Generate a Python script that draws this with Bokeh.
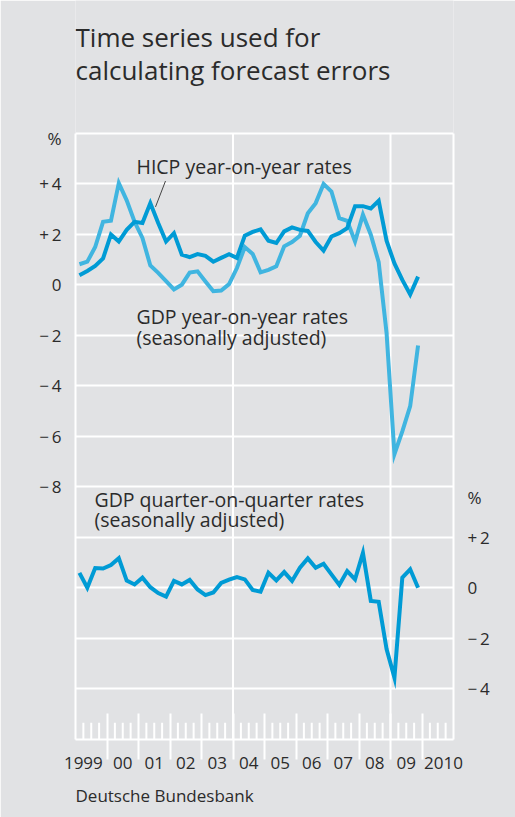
from bokeh.plotting import figure
from bokeh.models import FixedTicker, LinearAxis, Label, Title
from bokeh.embed import file_html
from bokeh.resources import INLINE

# ---------------- data ----------------
QUARTERS = [(y, q) for y in range(1999, 2010) for q in (1, 2, 3, 4)]

HICP_YOY = [0.38, 0.55, 0.75, 1.05, 2.0, 1.72, 2.18, 2.5, 2.45, 3.24, 2.45, 1.72,
            2.05, 1.2, 1.1, 1.22, 1.15, 0.92, 1.07, 1.22, 1.07, 1.95, 2.1, 2.2,
            1.75, 1.66, 2.12, 2.28, 2.18, 2.14, 1.7, 1.36, 1.92, 2.05, 2.25, 3.12,
            3.12, 3.03, 3.33, 1.75, 0.85, 0.2, -0.38, 0.33]

GDP_YOY = [0.82, 0.92, 1.5, 2.5, 2.54, 4.03, 3.35, 2.5, 1.86, 0.77, 0.48, 0.15,
           -0.18, 0.01, 0.49, 0.54, 0.14, -0.25, -0.22, 0.03, 0.67, 1.5, 1.23, 0.5,
           0.6, 0.74, 1.53, 1.7, 1.95, 2.84, 3.24, 4.0, 3.7, 2.64, 2.54, 1.72,
           2.78, 1.99, 0.9, -1.9, -6.7, -5.8, -4.8, -2.4]

GDP_QOQ = [0.6, 0.01, 0.79, 0.77, 0.91, 1.18, 0.29, 0.14, 0.41, 0.03, -0.2, -0.34,
           0.28, 0.14, 0.32, -0.06, -0.28, -0.18, 0.2, 0.33, 0.43, 0.34, -0.08, -0.15,
           0.6, 0.3, 0.63, 0.28, 0.8, 1.17, 0.8, 0.96, 0.54, 0.12, 0.67, 0.34,
           1.39, -0.51, -0.55, -2.42, -3.55, 0.41, 0.74, 0.01]

YEARS = list(range(1999, 2011))
YEAR_LABELS = ["1999", "00", "01", "02", "03", "04", "05", "06", "07", "08", "09", "2010"]

UPPER_TICKS = [4, 2, 0, -2, -4, -6, -8]
UPPER_TICK_LABELS = ["+\u20094", "+\u20092", "0", "\u2212\u20092", "\u2212\u20094", "\u2212\u20096", "\u2212\u20098"]
LOWER_TICKS = [2, 0, -2, -4]
LOWER_TICK_LABELS = ["+\u20092", "0", "\u2212\u20092", "\u2212\u20094"]

TITLE_LINES = ["Time series used for", "calculating forecast errors"]
SOURCE = "Deutsche Bundesbank"

# ---------------- layout / style ----------------
BG = "#e1e2e4"
TXT = "#2b2b2b"
DARK = "#009bd5"
LIGHT = "#40b5e0"
FONT = "Open Sans"
LOWER_OFFSET = -12          # lower panel drawn 12 units below the upper one
X0, X1 = 1999, 2011
Y0, Y1 = -18, 6
PX_PER_UNIT = 611 / 24.0
Y_TOP = Y1 + 134 / PX_PER_UNIT      # frame reaches up to the top of the canvas (title lives there)

xq = [y + (q - 0.5) / 4 for (y, q) in QUARTERS]
lower_y = [v + LOWER_OFFSET for v in GDP_QOQ]

p = figure(width=515, height=817, x_range=(X0, X1), y_range=(Y0, Y_TOP),
           output_backend="svg", toolbar_location=None,
           min_border_left=75, min_border_right=62, min_border_top=0, min_border_bottom=72,
           background_fill_color=BG, border_fill_color=BG, outline_line_color=None)

# bottom axis: year labels at mid-year, separators at year boundaries
xa = p.xaxis[0]
label_pos = [y + 0.5 for y in YEARS]
label_pos[0] -= 0.25
label_pos[-1] += 0.18
xa.ticker = FixedTicker(ticks=label_pos, minor_ticks=YEARS[1:])
xa.major_label_overrides = {x: l for x, l in zip(label_pos, YEAR_LABELS)}
xa.bounds = (X0, X1)
xa.axis_line_color = "white"
xa.axis_line_width = 2
xa.major_tick_line_color = None
xa.major_tick_in = 0
xa.major_tick_out = 0
xa.minor_tick_line_color = "white"
xa.minor_tick_line_width = 2
xa.minor_tick_in = 26
xa.minor_tick_out = 20
xa.major_label_standoff = -3
xa.major_label_text_font = FONT
xa.major_label_text_font_size = "17px"
xa.major_label_text_color = TXT

# source line below everything
src = Title(text=SOURCE, align="left", text_font=FONT, text_font_size="17px",
            text_font_style="normal", text_color=TXT, standoff=21)
p.add_layout(src, "below")

# horizontal white lines (top frame line + interior grid)
p.xgrid.visible = False
p.ygrid.ticker = FixedTicker(ticks=[Y1] + UPPER_TICKS + [t + LOWER_OFFSET for t in LOWER_TICKS])
p.ygrid.grid_line_color = "white"
p.ygrid.grid_line_width = 2

# vertical white grid lines
VGRID = [2004, 2009]
p.segment(x0=VGRID, y0=[Y0] * 2, x1=VGRID, y1=[Y1] * 2, line_color="white", line_width=2)

# left axis (upper panel)
ya = p.yaxis[0]
ya.ticker = FixedTicker(ticks=[5.8] + UPPER_TICKS)
ov = {5.8: "%"}
ov.update({t: l for t, l in zip(UPPER_TICKS, UPPER_TICK_LABELS)})
ya.major_label_overrides = ov

# right axis (lower panel)
ra = LinearAxis(ticker=FixedTicker(ticks=[-8.4] + [t + LOWER_OFFSET for t in LOWER_TICKS]))
ov2 = {-8.4: "%"}
ov2.update({t + LOWER_OFFSET: l for t, l in zip(LOWER_TICKS, LOWER_TICK_LABELS)})
ra.major_label_overrides = ov2
p.add_layout(ra, "right")

for a in (ya, ra):
    a.bounds = (Y0, Y1)
    a.axis_line_color = "white"
    a.axis_line_width = 2
    a.major_tick_line_color = None
    a.minor_tick_line_color = None
    a.major_label_standoff = 8
    a.major_label_text_font = FONT
    a.major_label_text_font_size = "17px"
    a.major_label_text_color = TXT

# quarter tick marks inside the frame
qt = [y + f for y in YEARS for f in (0.25, 0.5, 0.75)]
qlen = 17 / PX_PER_UNIT
p.segment(x0=qt, y0=[Y0] * len(qt), x1=qt, y1=[Y0 + qlen] * len(qt),
          line_color="white", line_width=2)

# series
p.line(xq, GDP_YOY, line_color=LIGHT, line_width=4, line_join="miter")
p.line(xq, HICP_YOY, line_color=DARK, line_width=4, line_join="miter")
p.line(xq, lower_y, line_color=DARK, line_width=4, line_join="miter")

# leader line for HICP label
p.segment(x0=[2001.857], y0=[4.115], x1=[2001.54], y1=[3.09], line_color="#444444", line_width=1)

LABELS = [
    (2000.937, 4.70, "HICP year-on-year rates", dict(left=2, right=2, top=3, bottom=2)),
    (2000.937, -1.23, "GDP year-on-year rates", dict(left=9, right=4, top=6, bottom=0)),
    (2000.937, -2.09, "(seasonally adjusted)", dict(left=9, right=8, top=0, bottom=7)),
    (1999.603, -8.49, "GDP quarter-on-quarter rates", dict(left=2, right=2, top=0, bottom=0)),
    (1999.603, -9.28, "(seasonally adjusted)", dict(left=2, right=2, top=0, bottom=3)),
]
# first the masking backgrounds, then the texts
for x, y, t, pad in LABELS:
    p.add_layout(Label(x=x, y=y, text=t, text_font=FONT, text_font_size="19.5px",
                       text_alpha=0, text_baseline="middle", text_align="left",
                       background_fill_color=BG, padding=pad))
for x, y, t, pad in LABELS:
    p.add_layout(Label(x=x, y=y, text=t, text_font=FONT, text_font_size="19.5px",
                       text_color=TXT, text_baseline="middle", text_align="left"))

# title
for yy, t in zip([9.81, 8.51], TITLE_LINES):
    p.add_layout(Label(x=X0, y=yy, text=t, text_font=FONT, text_font_size="26px",
                       text_color=TXT, text_baseline="middle", text_align="left"))

open("out.html", "w").write(file_html(p, INLINE))
